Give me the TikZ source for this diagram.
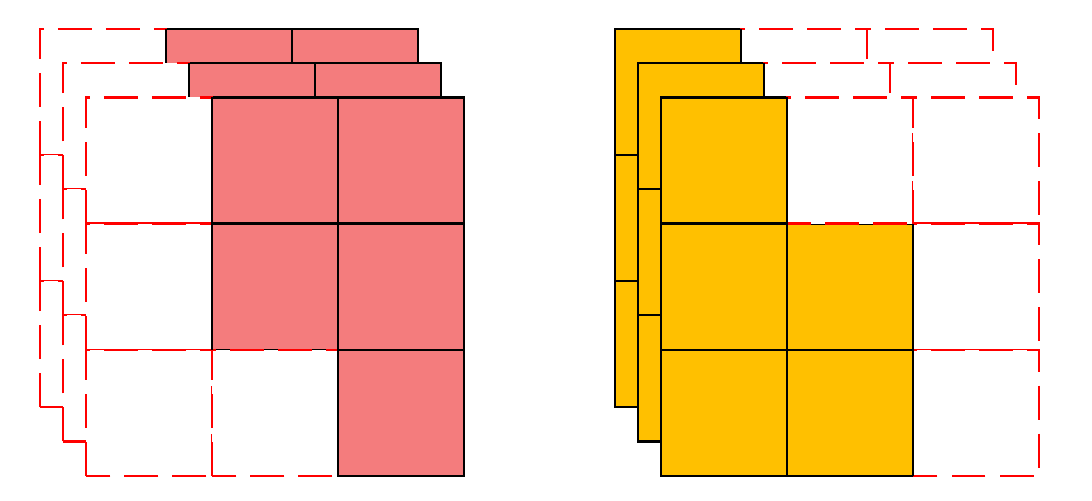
\documentclass[tikz,border=0pt]{standalone}
\usepackage{tikz}
\definecolor{cellred}{RGB}{244,124,125}
\definecolor{cellgold}{RGB}{255,192,0}

\begin{document}
\begin{tikzpicture}[x=3cm,y=3cm]
		\tikzset{full/.style={draw=black, line width=1.5pt},
			empty/.style={draw=red, fill=white, line width=1.5pt, dash pattern=on 23pt off 9.5pt}};
		\useasboundingbox (0,0) rectangle (8.66,3.973);
		% left stack, back layer first
		\foreach \l in {2,1,0}{
			\begin{scope}[shift={(0.682-0.1824*\l,0.2+0.272*\l)}]
				\foreach \i/\j in {1/2,2/2,1/1,2/1,2/0} \filldraw[full,fill=cellred] (\i,\j) rectangle ++(1,1);
				\foreach \i/\j in {0/2,0/1,0/0,1/0} \filldraw[empty] (\i,\j) rectangle ++(1,1);
				\foreach \x/\a/\b in {1/1/3,2/0/3,3/0/3} \draw[full] (\x,\a) -- (\x,\b);
			\end{scope}
		}
		% right stack
		\foreach \l in {2,1,0}{
			\begin{scope}[shift={(5.242-0.1824*\l,0.2+0.272*\l)}]
				\foreach \i/\j in {0/2,0/1,0/0,1/1,1/0} \filldraw[full,fill=cellgold] (\i,\j) rectangle ++(1,1);
				\foreach \i/\j in {1/2,2/2,2/1,2/0} \filldraw[empty] (\i,\j) rectangle ++(1,1);
				\foreach \x/\a/\b in {0/0/3,1/0/3,2/0/2} \draw[full] (\x,\a) -- (\x,\b);
			\end{scope}
		}
	\end{tikzpicture}
\end{document}
